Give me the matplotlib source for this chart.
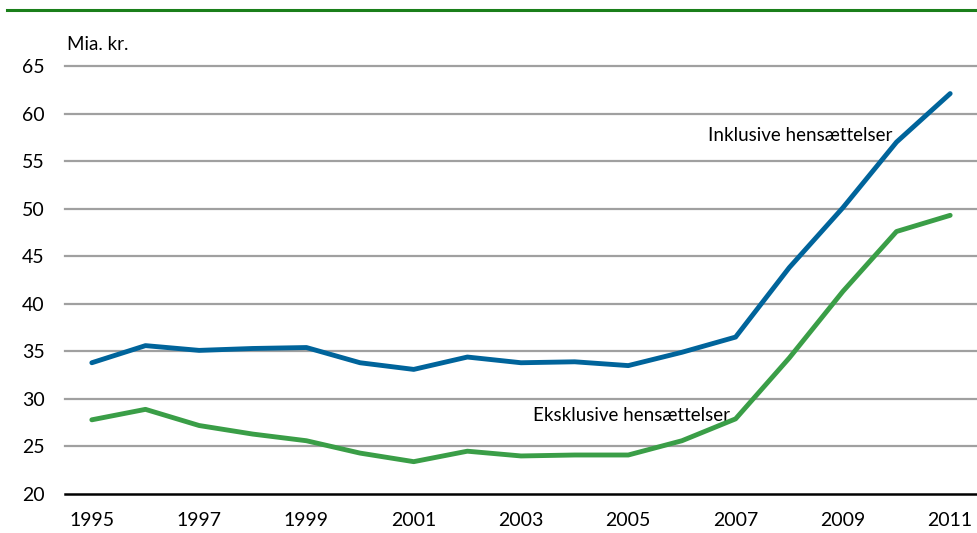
import matplotlib
matplotlib.use("Agg")
import matplotlib.pyplot as plt
from matplotlib.lines import Line2D

years = list(range(1995, 2012))
inklusive = [33.8, 35.6, 35.1, 35.3, 35.4, 33.8, 33.1, 34.4, 33.8, 33.9, 33.5, 34.9, 36.5, 43.8, 50.1, 57.0, 62.1]
eksklusive = [27.8, 28.9, 27.2, 26.3, 25.6, 24.3, 23.4, 24.5, 24.0, 24.1, 24.1, 25.6, 27.9, 34.3, 41.3, 47.6, 49.3]
xtick_labels = [str(y) for y in range(1995, 2012, 2)]
yticks = list(range(20, 70, 5))

plt.rcParams['font.family'] = ['Lato', 'DejaVu Sans']
plt.rcParams['ytick.major.pad'] = 14.5
plt.rcParams['ytick.major.size'] = 0
plt.rcParams['xtick.major.pad'] = 13
plt.rcParams['xtick.major.size'] = 0

fig = plt.figure(figsize=(9.77, 5.33), dpi=100)
ax = fig.add_axes([65/977, 1-494/533, 912/977, (494-66)/533])

blue = '#00649B'
green = '#3A9E47'

for y in yticks[1:]:
    ax.axhline(y, color='#a0a0a0', lw=1.6, zorder=1, clip_on=False)
ax.axhline(20, color='black', lw=1.8, zorder=3, clip_on=False)

ax.plot(years, inklusive, color=blue, lw=3.5, zorder=4, solid_capstyle='round')
ax.plot(years, eksklusive, color=green, lw=3.5, zorder=4, solid_capstyle='round')

ax.set_xlim(1994.5, 2011.5)
ax.set_ylim(20, 65)
ax.set_yticks(yticks)
ax.set_yticklabels([str(v) for v in yticks], fontsize=14)
ax.set_xticks(list(range(1995, 2012, 2)))
ax.set_xticklabels(xtick_labels, fontsize=14)
ax.tick_params(axis='both', length=0, colors='black')
for s in ax.spines.values():
    s.set_visible(False)

ax.text(2009.93, 57.1, 'Inklusive hensættelser', fontsize=13.5, ha='right', va='baseline')
ax.text(2003.22, 27.68, 'Eksklusive hensættelser', fontsize=13.5, ha='left', va='baseline')
fig.text(67/977, 1-45/533, 'Mia. kr.', fontsize=13.5, ha='left', va='center')

fig.add_artist(Line2D([7/977, 1.0], [1-10/533, 1-10/533], color='#1a7f1a', lw=2.2))

fig.savefig('out.png', dpi=100)
